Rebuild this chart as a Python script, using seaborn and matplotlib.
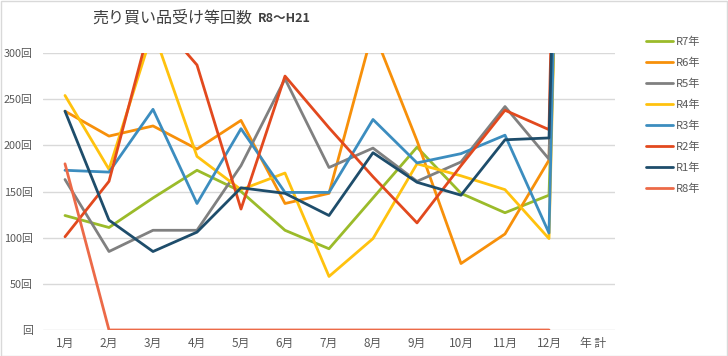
import matplotlib
matplotlib.use("Agg")
import matplotlib.pyplot as plt
import numpy as np
import pandas as pd
import seaborn as sns
from matplotlib.patches import Rectangle

months = ['1月', '2月', '3月', '4月', '5月', '6月', '7月', '8月', '9月', '10月', '11月', '12月', '年 計']
series_names = ['R7年', 'R6年', 'R5年', 'R4年', 'R3年', 'R2年', 'R1年', 'R8年']

r7 = [124, 111, 143, 173, 150, 108, 88, 143, 198, 148, 127, 146, 1659]
r6 = [237, 210, 221, 196, 227, 137, 148, 325, 205, 72, 104, 184, 2266]
r5 = [163, 85, 108, 108, 178, 272, 176, 197, 161, 182, 242, 185, 2057]
r4 = [254, 174, 325, 188, 152, 170, 58, 99, 180, 167, 152, 99, 2018]
r3 = [173, 171, 239, 137, 218, 149, 149, 228, 181, 191, 211, 105, 2152]
r2 = [101, 161, 342, 287, 131, 275, 219, 166, 116, 178, 238, 217, 2431]
r1 = [237, 119, 85, 106, 154, 148, 124, 192, 160, 146, 206, 208, 1885]
r8 = [180, 0, 0, 0, 0, 0, 0, 0, 0, 0, 0, 0, np.nan]

colors = {
    'R7年': '#9BBB2A',
    'R6年': '#F7900A',
    'R5年': '#808080',
    'R4年': '#FFC20E',
    'R3年': '#3C8DBF',
    'R2年': '#E2491E',
    'R1年': '#1E4D6B',
    'R8年': '#EC6A48',
}

rows = []
for name, vals in zip(series_names, [r7, r6, r5, r4, r3, r2, r1, r8]):
    for i, v in enumerate(vals):
        rows.append({'pos': i, 'month': months[i], 'series': name, 'count': v})
df = pd.DataFrame(rows)

sns.set_style('white')
plt.rcParams['font.family'] = ['Noto Sans CJK JP', 'DejaVu Sans']

fig = plt.figure(figsize=(7.28, 3.56), dpi=100)
ax = fig.add_axes([43 / 728, 1 - 330 / 356, 572 / 728, 277 / 356])

sns.lineplot(data=df, x='pos', y='count', hue='series', hue_order=series_names,
             palette=colors, linewidth=2.0, sort=False, ax=ax, legend=True)

ax.set_xlim(-0.5, len(months) - 0.5)
ax.set_ylim(0, 300)
ax.set_xticks(range(len(months)))
ax.set_xticklabels(months)
ax.set_yticks([0, 50, 100, 150, 200, 250, 300])
ax.set_yticklabels(['回', '50回', '100回', '150回', '200回', '250回', '300回'])
ax.tick_params(axis='both', length=0, labelcolor='#595959')
ax.tick_params(axis='x', pad=5, labelsize=8.5)
ax.tick_params(axis='y', pad=7.5, labelsize=7.8)
ax.set_xlabel('')
ax.set_ylabel('')
ax.grid(axis='y', color='#D9D9D9', linewidth=1)
ax.set_axisbelow(True)
for s in ax.spines.values():
    s.set_visible(False)

handles, labels = ax.get_legend_handles_labels()
ax.legend(handles, labels, loc='upper left', bbox_to_anchor=(636 / 728, 1 - 27 / 356),
          bbox_transform=fig.transFigure, frameon=False, fontsize=8,
          handlelength=2.4, labelspacing=0.95, handletextpad=0.3, labelcolor='#595959')

fig.text(92 / 728, 1 - 18 / 356, '売り買い品受け等回数', fontsize=11.5, color='#404040',
         va='center', ha='left')
fig.text(258 / 728, 1 - 19 / 356, 'R8～H21', fontsize=9, color='#404040',
         va='center', ha='left', fontweight='bold')

fig.patches.append(Rectangle((0.5 / 728, 0.5 / 356), 1 - 1.5 / 728, 1 - 1.5 / 356,
                             transform=fig.transFigure, fill=False,
                             edgecolor='#D9D9D9', linewidth=1))

fig.savefig('out.png', dpi=100)
